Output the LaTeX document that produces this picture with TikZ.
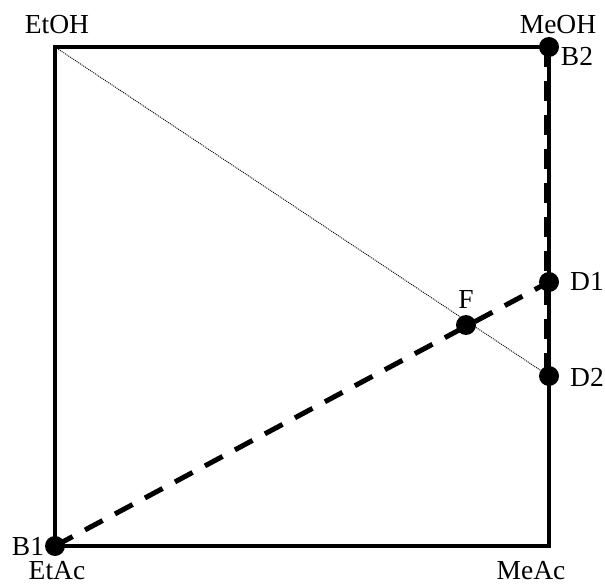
\documentclass[tikz,border=0pt]{standalone}
\usepackage{fontspec}
\setmainfont{Liberation Serif}
\begin{document}
\begin{tikzpicture}[x=1pt,y=-1pt,
  dot/.style={circle,fill=black,inner sep=0pt,minimum size=20pt},
  lbl/.style={inner sep=0pt,font=\fontsize{27.5}{30}\selectfont},
  frame/.style={line width=4.5pt,line cap=rect},
  dashline/.style={line width=5pt,dash pattern=on 20pt off 14pt},
  dotline/.style={line width=0.9pt,dash pattern=on 1pt off 1pt,black}]
\useasboundingbox (0,0) rectangle (605,585);
% points
\coordinate (tl) at (55,47);
\coordinate (br) at (549,546);
\coordinate (B1) at (55,546);
\coordinate (B2) at (549,47);
\coordinate (D1) at (549,282);
\coordinate (D2) at (549,376);
\coordinate (F) at (466,325);
\coordinate (B2s) at (546.5,47);
\coordinate (D2s) at (546.5,376);
% frame
\draw[frame] (tl) -- (B2) -- (br) -- (B1) -- cycle;
% lines
\draw[dotline] (tl) -- (D2);
\draw[dashline] (B1) -- (D1);
\draw[dashline] (B2s) -- (D2s);
% dots
\node[dot] (b1dot) at (B1) {};
\node[dot] (b2dot) at (B2) {};
\node[dot] (d1dot) at (D1) {};
\node[dot] (d2dot) at (D2) {};
\node[dot] (fdot) at (F) {};
% labels
\node[lbl] (etoh) at (57,25) {EtOH};
\node[lbl] (meoh) at (558,25) {MeOH};
\node[lbl] (b2l) at (577,56) {B2};
\node[lbl] (b1l) at (28,546) {B1};
\node[lbl] (etac) at (57,571) {EtAc};
\node[lbl] (meac) at (531,571) {MeAc};
\node[lbl] (d1l) at (587,281) {D1};
\node[lbl] (d2l) at (587,377) {D2};
\node[lbl] (fl) at (466,299) {F};
\end{tikzpicture}
\end{document}
